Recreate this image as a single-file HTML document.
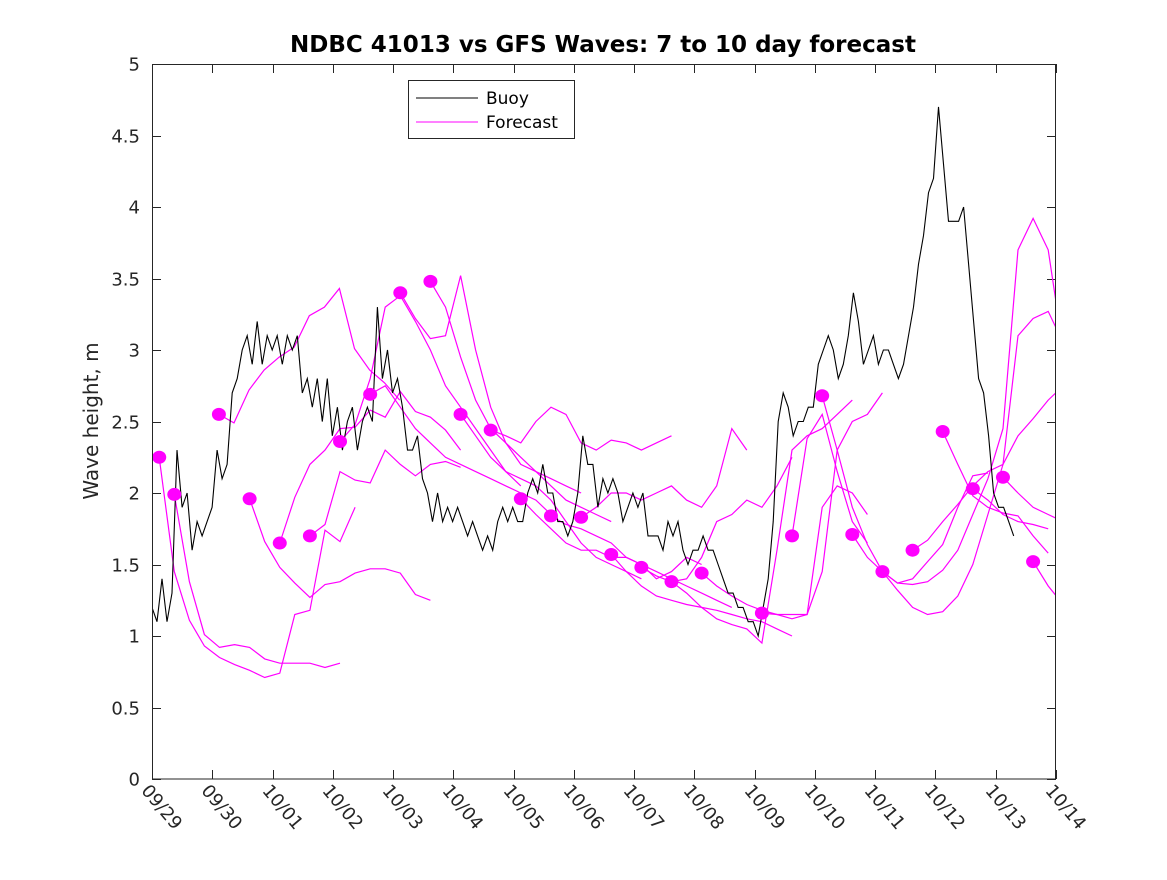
<!DOCTYPE html>
<html><head><meta charset="utf-8"><style>
body{margin:0;background:#fff;}
svg text{font-family:"DejaVu Sans","Liberation Sans",sans-serif;}
</style></head><body>
<svg id="chart" width="1167" height="875" xmlns="http://www.w3.org/2000/svg">
<rect width="1167" height="875" fill="#fff"/>
<text x="603" y="52" text-anchor="middle" font-size="23" font-weight="bold" fill="#000">NDBC 41013 vs GFS Waves: 7 to 10 day forecast</text>
<text transform="translate(98,421) rotate(-90)" text-anchor="middle" font-size="20" fill="#262626">Wave height, m</text>
<defs><clipPath id="plotclip"><rect x="152" y="64" width="904" height="715"/></clipPath></defs>
<g id="grid"></g>
<g id="series" clip-path="url(#plotclip)"></g>
<g id="dots"></g>
<rect x="152.5" y="64.5" width="903" height="714.5" fill="none" stroke="#262626" stroke-width="1"/>
<g>
<rect x="408.5" y="80.5" width="166" height="58" fill="#fff" stroke="#262626"/>
<line x1="416" y1="98" x2="478" y2="98" stroke="#000"/>
<text x="486" y="104" font-size="17" fill="#000">Buoy</text>
<line x1="416" y1="122" x2="478" y2="122" stroke="#ff00ff"/>
<text x="486" y="128" font-size="17" fill="#000">Forecast</text>
</g>
</svg>
<script>
const xTickLabels=["09/29","09/30","10/01","10/02","10/03","10/04","10/05","10/06","10/07","10/08","10/09","10/10","10/11","10/12","10/13","10/14"];
const yTicks=[0,0.5,1,1.5,2,2.5,3,3.5,4,4.5,5];
const buoyStepHours=1.995;
const buoyValues=[1.2,1.1,1.4,1.1,1.3,2.3,1.9,2.0,1.6,1.8,1.7,1.8,1.9,2.3,2.1,2.2,2.7,2.8,3.0,3.1,2.9,3.2,2.9,3.1,3.0,3.1,2.9,3.1,3.0,3.1,2.7,2.8,2.6,2.8,2.5,2.8,2.4,2.6,2.3,2.5,2.6,2.3,2.5,2.6,2.5,3.3,2.8,3.0,2.7,2.8,2.6,2.3,2.3,2.4,2.1,2.0,1.8,2.0,1.8,1.9,1.8,1.9,1.8,1.7,1.8,1.7,1.6,1.7,1.6,1.8,1.9,1.8,1.9,1.8,1.8,2.0,2.1,2.0,2.2,2.0,2.0,1.8,1.8,1.7,1.8,2.0,2.4,2.2,2.2,1.9,2.1,2.0,2.1,2.0,1.8,1.9,2.0,1.9,2.0,1.7,1.7,1.7,1.6,1.8,1.7,1.8,1.6,1.5,1.6,1.6,1.7,1.6,1.6,1.5,1.4,1.3,1.3,1.2,1.2,1.1,1.1,1.0,1.2,1.4,1.8,2.5,2.7,2.6,2.4,2.5,2.5,2.6,2.6,2.9,3.0,3.1,3.0,2.8,2.9,3.1,3.4,3.2,2.9,3.0,3.1,2.9,3.0,3.0,2.9,2.8,2.9,3.1,3.3,3.6,3.8,4.1,4.2,4.7,4.3,3.9,3.9,3.9,4.0,3.6,3.2,2.8,2.7,2.4,2.0,1.9,1.9,1.8,1.7];
const dotDays=[0.12,0.37,1.11,1.62,2.12,2.62,3.12,3.62,4.12,4.62,5.12,5.62,6.12,6.62,7.12,7.62,8.12,8.62,9.12,10.12,10.62,11.12,11.62,12.12,12.62,13.12,13.62,14.12,14.62];
const dotValues=[2.25,1.99,2.55,1.96,1.65,1.70,2.36,2.69,3.40,3.48,2.55,2.44,1.96,1.84,1.83,1.57,1.48,1.38,1.44,1.16,1.70,2.68,1.71,1.45,1.60,2.43,2.03,2.11,1.52];
const fcStepDays=0.25;
const fcStarts=[0.12,0.37,1.11,1.62,2.12,2.62,3.12,3.62,4.12,4.62,5.12,5.62,6.12,6.62,7.12,7.62,8.12,8.62,9.12,10.12,10.62,11.12,11.62,12.12,12.62,13.12,13.62,14.12,14.62];
const fcValues=[
[2.25,1.45,1.11,0.93,0.85,0.80,0.76,0.71,0.74,1.15,1.18,1.74,1.66,1.90],
[1.99,1.38,1.01,0.92,0.94,0.92,0.84,0.81,0.81,0.81,0.78,0.81],
[2.55,2.49,2.72,2.86,2.95,3.02,3.24,3.30,3.43,3.01,2.86,2.77,2.65],
[1.96,1.66,1.48,1.37,1.27,1.36,1.38,1.44,1.47,1.47,1.44,1.29,1.25],
[1.65,1.97,2.20,2.30,2.45,2.46,2.58,2.53,2.71,2.57,2.53,2.44,2.30],
[1.70,1.78,2.15,2.09,2.07,2.30,2.20,2.12,2.20,2.22,2.18],
[2.36,2.48,2.80,3.30,3.38,3.20,3.00,2.75,2.60,2.45,2.30,2.15,2.05],
[2.69,2.75,2.60,2.45,2.35,2.25,2.20,2.15,2.10,2.05,2.00,1.95,1.85],
[3.40,3.22,3.08,3.10,3.52,3.00,2.60,2.35,2.20,2.15,2.10,2.05,2.00],
[3.48,3.30,2.95,2.65,2.45,2.35,2.25,2.15,2.05,1.95,1.90,1.85,1.80],
[2.55,2.40,2.25,2.15,2.10,2.05,1.95,1.80,1.65,1.55,1.50,1.45,1.40],
[2.44,2.40,2.35,2.50,2.60,2.55,2.35,2.30,2.37,2.35,2.30,2.35,2.40],
[1.96,1.85,1.75,1.65,1.60,1.60,1.55,1.55,1.50,1.40,1.45,1.55,1.50],
[1.84,1.78,1.75,1.70,1.65,1.55,1.50,1.45,1.40,1.35,1.30,1.25,1.20],
[1.83,1.90,2.00,2.00,1.95,2.00,2.05,1.95,1.90,2.05,2.45,2.30],
[1.57,1.45,1.35,1.28,1.25,1.22,1.20,1.18,1.15,1.12,1.10,1.05,1.00],
[1.48,1.42,1.38,1.40,1.55,1.80,1.85,1.95,1.90,2.05,2.25],
[1.38,1.30,1.20,1.12,1.08,1.05,0.95,1.60,2.30,2.40,2.45,2.55,2.65],
[1.44,1.35,1.28,1.22,1.18,1.15,1.15,1.15,1.45,2.30,2.50,2.55,2.70],
[1.16,1.15,1.12,1.15,1.90,2.05,2.00,1.85],
[1.70,2.38,2.55,2.15,1.80,1.65],
[2.68,2.30,1.90,1.64,1.45,1.37,1.40,1.52,1.64,1.90,2.12,2.14],
[1.71,1.55,1.45,1.37,1.36,1.38,1.46,1.60,1.85,2.10,2.45,3.70,3.92,3.70,3.00],
[1.45,1.32,1.20,1.15,1.17,1.28,1.50,1.85,2.20,3.10,3.22,3.27,3.05],
[1.60,1.67,1.80,1.92,2.05,2.15,2.20,2.40,2.52,2.65,2.75],
[2.43,2.20,1.98,1.90,1.86,1.84,1.70,1.58],
[2.03,1.95,1.85,1.80,1.78,1.75],
[2.11,2.00,1.90,1.85,1.80],
[1.52,1.35,1.22]
];
const X0=152,X1=1056,Y0=779,Y1=64,DAYS=15,YMAX=5;
function xs(d){return X0+(X1-X0)*d/DAYS;}
function ys(v){return Y0-(Y0-Y1)*v/YMAX;}
const NS="http://www.w3.org/2000/svg";
function mk(tag,attrs,parent){const e=document.createElementNS(NS,tag);for(const k in attrs)e.setAttribute(k,attrs[k]);parent.appendChild(e);return e;}
const grid=document.getElementById('grid'),series=document.getElementById('series'),dots=document.getElementById('dots');
yTicks.forEach(v=>{
  const y=Math.round(ys(v))+0.5;
  const t1=mk('line',{x1:X0,x2:X0+9,y1:y,y2:y,stroke:'#262626'},grid);
  
  
  mk('line',{x1:X1-9,x2:X1,y1:y,y2:y,stroke:'#262626'},grid);
  const t=mk('text',{x:140,y:y+6,'text-anchor':'end','font-size':'18',fill:'#262626'},grid);
  t.textContent=String(v);
  
  
});
xTickLabels.forEach((lab,i)=>{
  const x=Math.round(xs(i))+0.5;
  const t1=mk('line',{x1:x,x2:x,y1:Y0,y2:Y0-9,stroke:'#262626'},grid);
  
  
  mk('line',{x1:x,x2:x,y1:Y1,y2:Y1+9,stroke:'#262626'},grid);
  const t=mk('text',{x:0,y:0,'font-size':'18',fill:'#262626',transform:'translate('+(x-12)+','+(Y0+12)+') rotate(50)'},grid);
  t.textContent=lab;
  
  
});
fcValues.forEach((vals,i)=>{
  const pts=vals.map((v,j)=>xs(fcStarts[i]+j*fcStepDays).toFixed(1)+','+ys(v).toFixed(1)).join(' ');
  const p=mk('polyline',{points:pts,fill:'none',stroke:'#ff00ff','stroke-width':'1.2'},series);
  
  
});
const bpts=buoyValues.map((v,j)=>xs(j*buoyStepHours/24).toFixed(1)+','+ys(v).toFixed(1)).join(' ');
const bl=mk('polyline',{points:bpts,fill:'none',stroke:'#000','stroke-width':'1.1'},series);


dotDays.forEach((d,i)=>{
  const c=mk('ellipse',{cx:xs(d),cy:ys(dotValues[i]),rx:7,ry:6.5,fill:'#ff00ff'},dots);
  
  
});
</script>
</body></html>
